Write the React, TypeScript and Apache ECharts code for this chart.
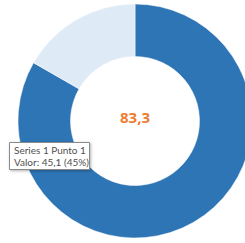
import React, { useEffect, useRef } from "react";
import * as echarts from "echarts";

const categories = ["Punto 1", "Punto 2"];
const values = [83.3, 16.7];
const centerLabel = "83,3";
const tooltipLines = ["Series 1 Punto 1", "Valor: 45,1 (45%)"];
const colors = ["#2E75B6", "#DEEBF7"];

export default function App() {
  const ref = useRef<HTMLDivElement>(null);
  useEffect(() => {
    if (!ref.current) return;
    const chart = echarts.init(ref.current, null, { renderer: "svg" });
    chart.setOption({
      animation: false,
      series: [
        {
          type: "pie",
          center: [135, 121],
          radius: [64.5, 117],
          startAngle: 90,
          clockwise: true,
          label: { show: false },
          labelLine: { show: false },
          silent: true,
          z: 1,
          itemStyle: { borderColor: "#ffffff", borderWidth: 0.5 },
          data: categories.map((c, i) => ({
            name: c,
            value: values[i],
            itemStyle: { color: colors[i] },
          })),
        },
      ],
      graphic: {
        elements: [
          {
            type: "text",
            x: 135,
            y: 117,
            z: 100,
            style: {
              text: centerLabel,
              fill: "#ED7D31",
              font: "bold 15px 'Open Sans', 'Noto Sans', sans-serif",
              textAlign: "center",
              textVerticalAlign: "middle",
            },
          },
          {
            type: "rect",
            z: 100,
            shape: { x: 9.5, y: 142.5, width: 80, height: 27 },
            style: {
              fill: "#ffffff",
              stroke: "#8a8a8a",
              lineWidth: 1,
              shadowBlur: 3,
              shadowOffsetX: 1,
              shadowOffsetY: 1,
              shadowColor: "rgba(0,0,0,0.3)",
            },
          },
          {
            type: "text",
            x: 14,
            y: 144.5,
            z: 101,
            style: {
              text: tooltipLines[0],
              fill: "#505050",
              font: "10px Lato, 'Open Sans', sans-serif",
              textVerticalAlign: "top",
            },
          },
          {
            type: "text",
            x: 14,
            y: 157,
            z: 101,
            style: {
              text: tooltipLines[1],
              fill: "#505050",
              font: "10px Lato, 'Open Sans', sans-serif",
              textVerticalAlign: "top",
            },
          },
        ],
      },
    });
    return () => chart.dispose();
  }, []);
  return (
    <div
      ref={ref}
      style={{ position: "fixed", left: 0, top: 0, width: 245, height: 243, background: "#ffffff" }}
    />
  );
}
